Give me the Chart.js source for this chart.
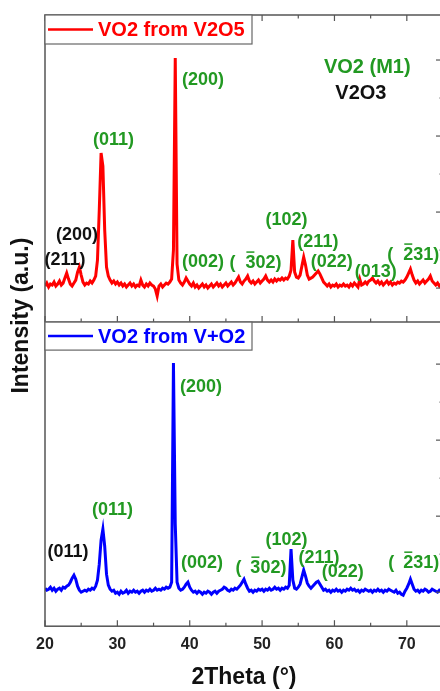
<!DOCTYPE html>
<html>
<head>
  <title>XRD VO2</title>
  <meta charset="utf-8">
  <script src="https://cdn.jsdelivr.net/npm/chart.js@4.4.0/dist/chart.umd.min.js"></script>
  <style>
    body { margin: 0; width: 440px; height: 691px; overflow: hidden; background: #fff; }
    canvas { display: block; }
  </style>
</head>
<body>
<canvas id="xrd_chart" width="446" height="691"></canvas>

<script>
  // scan positions, 2Theta in degrees
  var twoTheta = [
    20, 20.25, 20.5, 20.75, 21, 21.25, 21.5, 21.75, 22, 22.25, 22.5, 22.75, 23, 23.25, 23.5, 23.75, 24, 24.25, 24.5, 24.75,
    25, 25.25, 25.5, 25.75, 26, 26.25, 26.5, 26.75, 27, 27.25, 27.5, 27.75, 28, 28.25, 28.5, 28.75, 29, 29.25, 29.5, 29.75,
    30, 30.25, 30.5, 30.75, 31, 31.25, 31.5, 31.75, 32, 32.25, 32.5, 32.75, 33, 33.25, 33.5, 33.75, 34, 34.25, 34.5, 34.75,
    35, 35.25, 35.5, 35.75, 36, 36.25, 36.5, 36.75, 37, 37.25, 37.5, 37.75, 38, 38.25, 38.5, 38.75, 39, 39.25, 39.5, 39.75,
    40, 40.25, 40.5, 40.75, 41, 41.25, 41.5, 41.75, 42, 42.25, 42.5, 42.75, 43, 43.25, 43.5, 43.75, 44, 44.25, 44.5, 44.75,
    45, 45.25, 45.5, 45.75, 46, 46.25, 46.5, 46.75, 47, 47.25, 47.5, 47.75, 48, 48.25, 48.5, 48.75, 49, 49.25, 49.5, 49.75,
    50, 50.25, 50.5, 50.75, 51, 51.25, 51.5, 51.75, 52, 52.25, 52.5, 52.75, 53, 53.25, 53.5, 53.75, 54, 54.25, 54.5, 54.75,
    55, 55.25, 55.5, 55.75, 56, 56.25, 56.5, 56.75, 57, 57.25, 57.5, 57.75, 58, 58.25, 58.5, 58.75, 59, 59.25, 59.5, 59.75,
    60, 60.25, 60.5, 60.75, 61, 61.25, 61.5, 61.75, 62, 62.25, 62.5, 62.75, 63, 63.25, 63.5, 63.75, 64, 64.25, 64.5, 64.75,
    65, 65.25, 65.5, 65.75, 66, 66.25, 66.5, 66.75, 67, 67.25, 67.5, 67.75, 68, 68.25, 68.5, 68.75, 69, 69.25, 69.5, 69.75,
    70, 70.25, 70.5, 70.75, 71, 71.25, 71.5, 71.75, 72, 72.25, 72.5, 72.75, 73, 73.25, 73.5, 73.75, 74, 74.25, 74.5, 74.75,
    75
  ];

  // intensity (a.u.), sample made from V2O5
  var vo2FromV2O5 = [
    36, 39, 35, 38, 37, 40, 36, 38, 41, 37, 39, 44, 49, 43, 38, 36, 39, 42, 50, 55,
    47, 40, 37, 39, 38, 41, 39, 42, 46, 62, 112, 169, 156, 92, 55, 46, 42, 39, 41, 38,
    40, 37, 39, 36, 38, 35, 37, 39, 36, 38, 35, 37, 36, 42, 37, 35, 38, 36, 39, 37,
    36, 33, 26, 36, 38, 35, 37, 39, 38, 40, 43, 72, 264, 58, 42, 39, 37, 40, 44, 41,
    38, 36, 39, 35, 37, 34, 36, 38, 35, 37, 34, 36, 38, 35, 37, 39, 36, 38, 35, 37,
    39, 36, 38, 40, 37, 39, 42, 45, 40, 38, 41, 43, 46, 41, 39, 41, 38, 40, 42, 39,
    41, 43, 46, 42, 40, 42, 40, 43, 41, 43, 42, 44, 42, 44, 43, 46, 52, 82, 50, 45,
    44, 47, 56, 65, 57, 47, 43, 44, 45, 47, 49, 51, 48, 44, 40, 38, 36, 38, 35, 37,
    36, 38, 35, 37, 36, 38, 36, 37, 35, 38, 36, 39, 37, 35, 43, 37, 38, 40, 38, 41,
    42, 44, 41, 39, 41, 38, 40, 37, 39, 41, 38, 40, 37, 39, 38, 40, 39, 41, 40, 42,
    45, 49, 53, 47, 42, 39, 41, 38, 40, 42, 39, 41, 43, 46, 41, 39, 37, 39, 36, 38,
    37
  ];

  // intensity (a.u.), sample made from V + O2
  var vo2FromVO2 = [
    38, 36, 37, 39, 36, 38, 35, 37, 38, 36, 39, 38, 40, 41, 44, 48, 51, 47, 40, 36,
    34, 35, 36, 35, 37, 36, 38, 37, 40, 46, 62, 86, 97, 80, 52, 41, 37, 35, 36, 33,
    34, 32, 35, 33, 34, 36, 33, 35, 34, 36, 34, 35, 33, 35, 36, 34, 36, 35, 37, 35,
    36, 38, 36, 37, 36, 38, 37, 39, 38, 39, 44, 263, 102, 44, 38, 36, 37, 39, 42, 44,
    39, 36, 34, 35, 33, 35, 34, 32, 34, 33, 35, 34, 32, 34, 35, 33, 35, 36, 37, 39,
    38, 36, 35, 37, 36, 38, 37, 39, 41, 44, 47, 42, 38, 35, 36, 34, 36, 35, 37, 36,
    37, 35, 37, 36, 38, 36, 37, 39, 37, 38, 36, 38, 37, 39, 38, 41, 77, 46, 38, 37,
    39, 42, 49, 56, 50, 43, 40, 38, 40, 42, 44, 45, 42, 39, 36, 37, 35, 36, 34, 36,
    35, 37, 35, 36, 34, 36, 35, 37, 36, 38, 36, 37, 35, 36, 34, 36, 35, 37, 36, 35,
    36, 34, 36, 35, 37, 35, 36, 34, 36, 35, 37, 36, 35, 34, 36, 33, 34, 32, 31, 35,
    38, 42, 47, 42, 37, 35, 36, 34, 36, 35, 37, 36, 34, 35, 37, 36, 35, 34, 36, 35,
    36
  ];

  var seriesNames = ['VO2 from V2O5', 'VO2 from V+O2'];
  var xTickLabels = [20, 30, 40, 50, 60, 70];
  var xMinorTicks = [25, 35, 45, 55, 65, 75];
  var yMajorTicks = [34, 110, 186, 262];
  var yMinorTicks = [72, 148, 224];

  // peak labels: [text, 2theta, intensity, colour, overbar on first digit]
  var topLabels = [
    ['(211)', 22.76, 62, 'k'],
    ['(200)', 24.42, 87, 'k'],
    ['(011)', 29.46, 182, 'g'],
    ['(200)', 41.82, 242, 'g'],
    ['(002)', 41.82, 60, 'g'],
    ['(', 45.9, 59, 'g'],
    ['302)', 50.18, 59, 'g', true],
    ['(102)', 53.36, 102, 'g'],
    ['(211)', 57.71, 80, 'g'],
    ['(022)', 59.64, 60, 'g'],
    ['(013)', 65.72, 50, 'g'],
    ['(', 67.72, 67, 'g'],
    ['231)', 72.0, 67, 'g', true]
  ];
  var bottomLabels = [
    ['(011)', 23.18, 74, 'k'],
    ['(011)', 29.32, 116, 'g'],
    ['(200)', 41.55, 239, 'g'],
    ['(002)', 41.69, 63, 'g'],
    ['(', 46.73, 58, 'g'],
    ['302)', 50.87, 58, 'g', true],
    ['(102)', 53.36, 86, 'g'],
    ['(211)', 57.85, 68, 'g'],
    ['(022)', 61.16, 54, 'g'],
    ['(', 67.86, 63, 'g'],
    ['231)', 72.0, 63, 'g', true]
  ];
  // phase key in the top panel
  var phaseKey = [
    ['VO2 (M1)', 64.54, 255, 'g'],
    ['V2O3', 63.65, 229, 'k']
  ];

  var FONT = "'Liberation Sans', Arial, sans-serif";
  var colours = { g: '#229922', k: '#111111' };
  var frameColour = '#555555';

  Chart.defaults.font.family = FONT;

  var panelPlugin = {
    id: 'panels',
    afterDatasetsDraw: function (chart) {
      var ctx = chart.ctx;
      var area = chart.chartArea;
      var xs = chart.scales.x;
      var yTop = chart.scales.yTop;
      var yBot = chart.scales.yBot;
      ctx.save();

      // frame and the line between the two panels
      ctx.strokeStyle = frameColour;
      ctx.lineWidth = 1.5;
      ctx.strokeRect(area.left, area.top, area.right - area.left, area.bottom - area.top);
      ctx.beginPath();
      ctx.moveTo(area.left, yTop.bottom);
      ctx.lineTo(area.right, yTop.bottom);
      ctx.stroke();

      // inward ticks on the x edges
      function xTick(v, y, len) {
        var px = xs.getPixelForValue(v);
        ctx.beginPath();
        ctx.moveTo(px, y);
        ctx.lineTo(px, y + len);
        ctx.stroke();
      }
      ctx.lineWidth = 1.2;
      xTickLabels.forEach(function (v) {
        xTick(v, yTop.top, 6);
        xTick(v, yTop.bottom, -6);
        xTick(v, yBot.bottom, -6);
      });
      xMinorTicks.forEach(function (v) {
        xTick(v, yTop.top, 3.5);
        xTick(v, yTop.bottom, -3.5);
        xTick(v, yBot.bottom, -3.5);
      });

      // inward ticks on the right edge of both panels
      [yTop, yBot].forEach(function (ys) {
        yMajorTicks.forEach(function (v) {
          var py = ys.getPixelForValue(v);
          ctx.beginPath();
          ctx.moveTo(area.right, py);
          ctx.lineTo(area.right - 7, py);
          ctx.stroke();
        });
        yMinorTicks.forEach(function (v) {
          var py = ys.getPixelForValue(v);
          ctx.beginPath();
          ctx.moveTo(area.right, py);
          ctx.lineTo(area.right - 3.5, py);
          ctx.stroke();
        });
      });

      // legend box in each panel
      function legendBox(ys, h, name, colour) {
        var x0 = area.left, y0 = ys.top;
        ctx.fillStyle = '#fff';
        ctx.fillRect(x0, y0, 207, h);
        ctx.strokeStyle = '#666';
        ctx.lineWidth = 1.2;
        ctx.strokeRect(x0, y0, 207, h);
        ctx.strokeStyle = colour;
        ctx.lineWidth = 2.5;
        ctx.beginPath();
        ctx.moveTo(x0 + 3, y0 + h / 2);
        ctx.lineTo(x0 + 48, y0 + h / 2);
        ctx.stroke();
        ctx.fillStyle = colour;
        ctx.font = 'bold 20px ' + FONT;
        ctx.textAlign = 'left';
        ctx.textBaseline = 'middle';
        ctx.fillText(name, x0 + 53, y0 + h / 2 + 1);
      }
      legendBox(yTop, 29, seriesNames[0], chart.data.datasets[0].borderColor);
      legendBox(yBot, 28, seriesNames[1], chart.data.datasets[1].borderColor);

      // peak labels
      function drawLabels(list, ys, size) {
        ctx.font = 'bold ' + size + 'px ' + FONT;
        ctx.textAlign = 'center';
        ctx.textBaseline = 'middle';
        list.forEach(function (lab) {
          var px = xs.getPixelForValue(lab[1]);
          var py = ys.getPixelForValue(lab[2]);
          ctx.fillStyle = colours[lab[3]];
          ctx.fillText(lab[0], px, py);
          if (lab[4]) {
            var w = ctx.measureText(lab[0]).width;
            var c = ctx.measureText(lab[0].charAt(0)).width;
            var left = px - w / 2;
            ctx.strokeStyle = colours[lab[3]];
            ctx.lineWidth = 1.5;
            ctx.beginPath();
            ctx.moveTo(left + 1, py - 11);
            ctx.lineTo(left + c - 1, py - 11);
            ctx.stroke();
          }
        });
      }
      drawLabels(topLabels, yTop, 18);
      drawLabels(bottomLabels, yBot, 18);
      drawLabels(phaseKey, yTop, 20);

      // shared y title
      ctx.fillStyle = '#111';
      ctx.font = 'bold 23px ' + FONT;
      ctx.textAlign = 'center';
      ctx.textBaseline = 'middle';
      ctx.translate(22, (area.top + area.bottom) / 2 - 5);
      ctx.rotate(-Math.PI / 2);
      ctx.fillText('Intensity (a.u.)', 0, 0);

      ctx.restore();
    }
  };

  var ctx = document.getElementById('xrd_chart').getContext('2d');
  var xrdChart = new Chart(ctx, {
    type: 'line',
    data: {
      labels: twoTheta,
      datasets: [{
        label: seriesNames[0],
        data: vo2FromV2O5,
        borderColor: '#ff0000',
        borderWidth: 3,
        pointRadius: 0,
        yAxisID: 'yTop'
      }, {
        label: seriesNames[1],
        data: vo2FromVO2,
        borderColor: '#0000ff',
        borderWidth: 3,
        pointRadius: 0,
        yAxisID: 'yBot'
      }]
    },
    options: {
      responsive: false,
      animation: false,
      devicePixelRatio: 1,
      layout: { padding: { left: 45, top: 15, right: 3, bottom: 0 } },
      plugins: {
        legend: { display: false },
        tooltip: { enabled: false }
      },
      scales: {
        x: {
          type: 'linear',
          min: 20,
          max: 75,
          afterBuildTicks: function (s) {
            s.ticks = xTickLabels.map(function (v) { return { value: v }; });
          },
          grid: { display: false, drawTicks: false },
          border: { display: false },
          ticks: {
            color: '#222',
            font: { size: 16, weight: 'bold' },
            padding: 9,
            maxRotation: 0
          },
          title: {
            display: true,
            text: '2Theta (°)',
            color: '#111',
            font: { size: 23, weight: 'bold' },
            padding: { top: 0, bottom: 0 }
          }
        },
        // stacked panels: the scale listed last is placed on top
        yBot: {
          type: 'linear',
          position: 'left',
          display: false,
          stack: 'panels',
          stackWeight: 304,
          min: 0,
          max: 304
        },
        yTop: {
          type: 'linear',
          position: 'left',
          display: false,
          stack: 'panels',
          stackWeight: 307,
          min: 0,
          max: 307
        }
      }
    },
    plugins: [panelPlugin]
  });
</script>
</body>
</html>
